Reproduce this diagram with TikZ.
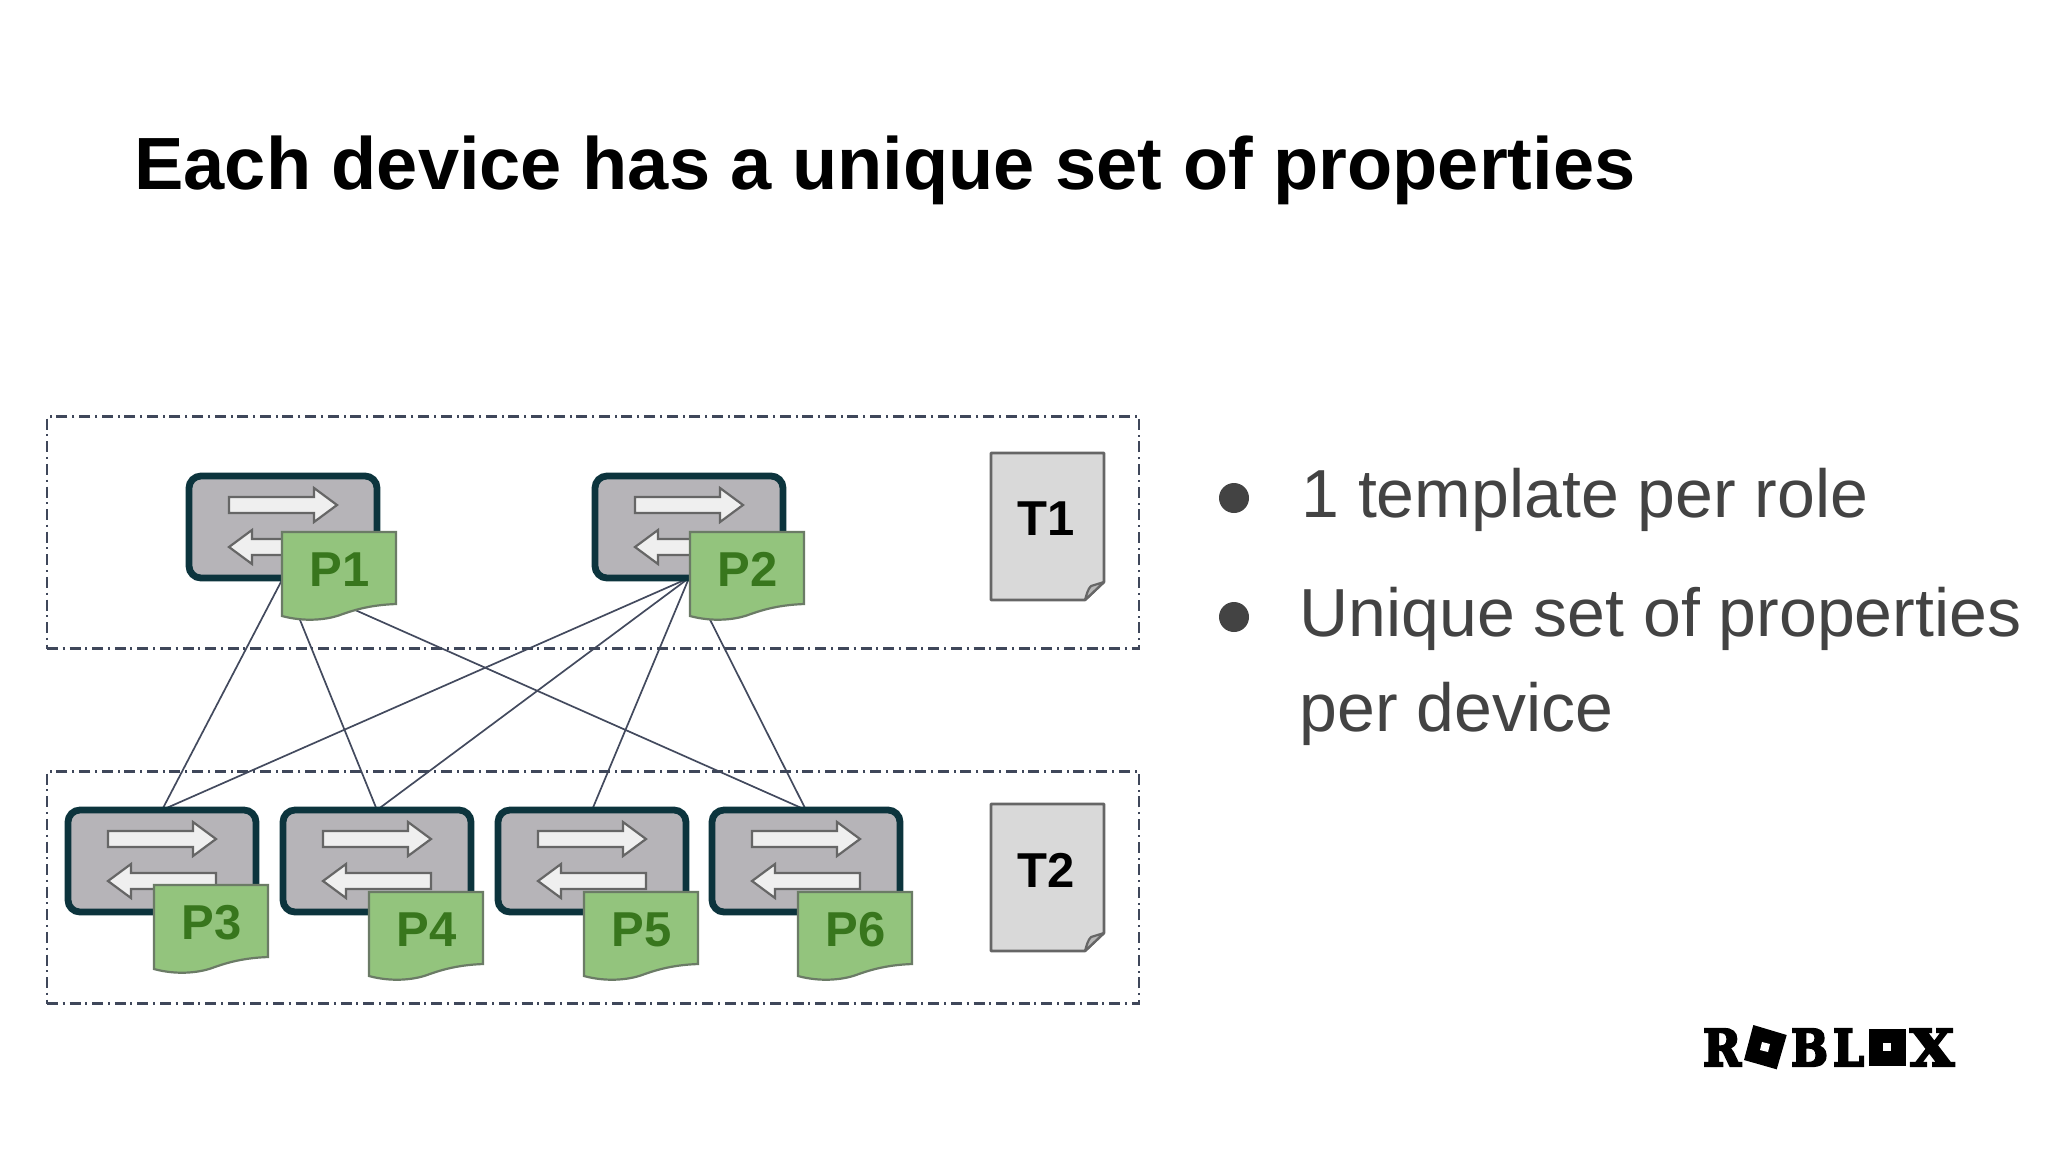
\documentclass[tikz,border=0pt]{standalone}
\usepackage{fontspec}
\usepackage{graphicx}
\setmainfont{Liberation Sans}
\newfontfamily\logofont[FakeBold=4.5]{DejaVu Serif}
\usetikzlibrary{calc}
\definecolor{linkc}{HTML}{434A5E}
\definecolor{boundc}{HTML}{3F475A}
\definecolor{devfill}{HTML}{B6B4B8}
\definecolor{devline}{HTML}{0C343D}
\definecolor{arrline}{HTML}{666666}
\definecolor{arrfill}{HTML}{EFEFEF}
\definecolor{propfill}{HTML}{93C47D}
\definecolor{propline}{HTML}{6B7B66}
\definecolor{proptext}{HTML}{38761D}
\definecolor{tplfill}{HTML}{D9D9D9}
\definecolor{foldfill}{HTML}{B7B7B7}
\definecolor{bodytext}{HTML}{434343}
\pgfdeclarelayer{bg}
\pgfsetlayers{bg,main}
\tikzset{
  device/.style={draw=devline,fill=devfill,line width=3.4pt,rounded corners=6pt,minimum width=94pt,minimum height=51pt,inner sep=0pt,outer sep=0pt},
  flowarrow/.style={draw=arrline,fill=arrfill,line width=1.1pt,line join=miter},
  propshape/.style={draw=propline,fill=propfill,line width=1.1pt},
  proplabel/.style={text=proptext,font=\fontsize{24.5}{26}\selectfont\bfseries,inner sep=0pt},
  tplshape/.style={draw=arrline,fill=tplfill,line width=1.3pt,line join=round},
  tplfold/.style={draw=arrline,fill=foldfill,line width=1.1pt,line join=round},
  tpllabel/.style={text=black,font=\fontsize{24.5}{26}\selectfont\bfseries,inner sep=0pt},
  link/.style={draw=linkc,line width=0.85pt},
  boundary/.style={draw=boundc,line width=1.05pt,dash pattern=on 5.5pt off 2.3pt on 1pt off 2.5pt},
  titletext/.style={anchor=base west,inner sep=0pt,font=\fontsize{37}{37}\selectfont\bfseries,text=black},
  bullettext/.style={anchor=base west,inner sep=0pt,font=\fontsize{34}{34}\selectfont,text=bodytext},
  bulletdot/.style={circle,fill=bodytext,minimum size=15pt,inner sep=0pt},
  logoletter/.style={inner sep=0pt,outer sep=0pt,text=black},
}
% name, left, top (outer edge of the device)
\newcommand{\devicebox}[3]{%
  \node[device] (#1) at (#2+97,#3+54) {};
  \draw[flowarrow] (#2+43,#3+24) -- (#2+128,#3+24) -- (#2+128,#3+15) -- (#2+151,#3+32) -- (#2+128,#3+49) -- (#2+128,#3+40) -- (#2+43,#3+40) -- cycle;
  \draw[flowarrow] (#2+151,#3+66) -- (#2+66,#3+66) -- (#2+66,#3+57) -- (#2+43,#3+74) -- (#2+66,#3+91) -- (#2+66,#3+82) -- (#2+151,#3+82) -- cycle;
}
% name, text, left, top
\newcommand{\propsheet}[4]{%
  \draw[propshape] (#3,#4) -- (#3+114,#4) -- (#3+114,#4+72) .. controls (#3+88,#4+73) and (#3+72,#4+78) .. (#3+58,#4+83) .. controls (#3+44,#4+88) and (#3+22,#4+90) .. (#3,#4+84) -- cycle;
  \node[proplabel] (#1) at (#3+57.5,#4+37.5) {#2};
}
% name, text, top
\newcommand{\tplsheet}[3]{%
  \draw[tplshape] (991,#3) -- (1104,#3) -- (1104,#3+129) -- (1085,#3+147) -- (991,#3+147) -- cycle;
  \draw[tplfold] (1085,#3+147) .. controls (1087,#3+140) and (1088,#3+136) .. (1091,#3+133) -- (1104,#3+129) -- cycle;
  \node[tpllabel] (#1) at (1046,#3+66) {#2};
}
\begin{document}
\begin{tikzpicture}[x=0.5pt,y=-0.5pt]
\useasboundingbox (0,0) rectangle (2048,1152);
\begin{pgfonlayer}{bg}
  \fill[white] (0,0) rectangle (2048,1152);
\end{pgfonlayer}
\node[titletext] (title) at (134,189.5) {Each device has a unique set of properties};
% tier boundaries
\node[boundary,minimum width=546pt,minimum height=116pt,inner sep=0pt,outer sep=0pt] (tier1) at (593,532.5) {};
\node[boundary,minimum width=546pt,minimum height=116pt,inner sep=0pt,outer sep=0pt] (tier2) at (593,887.5) {};
% devices
\devicebox{s1}{186}{473}
\devicebox{s2}{592}{473}
\devicebox{s3}{65}{807}
\devicebox{s4}{280}{807}
\devicebox{s5}{495}{807}
\devicebox{s6}{709}{807}
% properties
\propsheet{p1}{P1}{282}{532}
\propsheet{p2}{P2}{690}{532}
\propsheet{p3}{P3}{154}{885}
\propsheet{p4}{P4}{369}{892}
\propsheet{p5}{P5}{584}{892}
\propsheet{p6}{P6}{798}{892}
% links
\begin{pgfonlayer}{bg}
  \draw[link] (s1.south) -- (s3.north);
  \draw[link] (s1.south) -- (s4.north);
  \draw[link] (s1.south) -- (s6.north);
  \draw[link] (s2.south) -- (s3.north);
  \draw[link] (s2.south) -- (s4.north);
  \draw[link] (s2.south) -- (s5.north);
  \draw[link] (s2.south) -- (s6.north);
\end{pgfonlayer}
% templates
\tplsheet{t1}{T1}{453}
\tplsheet{t2}{T2}{804}
% bullets
\node[bulletdot] (b1) at (1234,498) {};
\node[bulletdot] (b2) at (1234,617) {};
\node[bullettext] (l1) at (1301,517.5) {1 template per role};
\node[bullettext] (l2) at (1299,636.5) {Unique set of properties};
\node[bullettext] (l3) at (1299,731.5) {per device};
% logo
\node[logoletter] (lr) at (1722,1047.5) {\resizebox{19pt}{18.5pt}{\logofont\bfseries R}};
\node[logoletter] (lo1) at (1765,1047) {\resizebox{14pt}{14pt}{\logofont\bfseries O}};
\fill[black] (1753.3,1025) -- (1786.7,1035) -- (1776.7,1069.3) -- (1744,1060) -- cycle;
\fill[white] (1762,1042) -- (1770,1044) -- (1768,1052) -- (1760,1050) -- cycle;
\node[logoletter] (lb) at (1809.5,1047.5) {\resizebox{18.5pt}{18.5pt}{\logofont\bfseries B}};
\node[logoletter] (ll) at (1848.5,1047.5) {\resizebox{15.5pt}{18.5pt}{\logofont\bfseries L}};
\node[logoletter] (lo2) at (1887.5,1047.5) {\resizebox{14pt}{14pt}{\logofont\bfseries O}};
\fill[black] (1869,1029) rectangle (1906,1066);
\fill[white] (1883,1043) rectangle (1891,1051);
\node[logoletter] (lx) at (1932,1047.5) {\resizebox{22pt}{18.5pt}{\logofont\bfseries X}};
\end{tikzpicture}
\end{document}
